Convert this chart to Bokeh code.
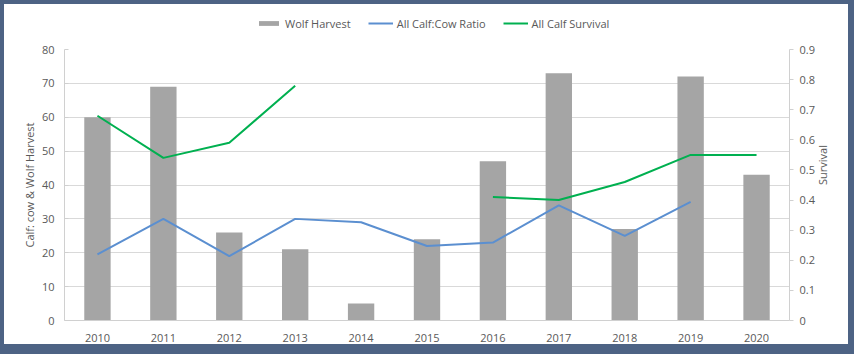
import math

from bokeh.plotting import figure
from bokeh.layouts import column
from bokeh.models import (ColumnDataSource, FactorRange, Range1d, LinearAxis,
                          FixedTicker, Legend, LegendItem, Plot, VBar, Line)
from bokeh.embed import file_html
from bokeh.resources import INLINE

nan = float("nan")

years = ["2010", "2011", "2012", "2013", "2014", "2015",
         "2016", "2017", "2018", "2019", "2020"]
wolf_harvest = [60, 69, 26, 21, 5, 24, 47, 73, 27, 72, 43]
calf_cow_ratio = [19.5, 30, 19, 30, 29, 22, 23, 34, 25, 35, nan]
calf_survival = [0.68, 0.54, 0.59, 0.78, nan, nan, 0.41, 0.40, 0.46, 0.55, 0.55]

left_ticks = [0, 10, 20, 30, 40, 50, 60, 70, 80]
right_ticks = [0, 0.1, 0.2, 0.3, 0.4, 0.5, 0.6, 0.7, 0.8, 0.9]

series_names = ["Wolf Harvest", "All Calf:Cow Ratio", "All Calf Survival"]

FONT = "Open Sans"
TXT = "#595959"
AXIS = "#d0d0d0"
BAR = "#a5a5a5"
BLUE = "#5b8fd0"
GREEN = "#00b050"
FRAME = "#4d6384"

src = ColumnDataSource(dict(year=years, harvest=wolf_harvest,
                            ratio=calf_cow_ratio, surv=calf_survival))

# ---- main chart -----------------------------------------------------------
p = figure(x_range=FactorRange(*years, range_padding=0), y_range=Range1d(0, 80),
           width=844, height=310, output_backend="svg", toolbar_location=None,
           min_border_left=60, min_border_right=59, min_border_top=15,
           min_border_bottom=24, outline_line_color=None,
           background_fill_color="white", border_fill_color="white")
p.margin = (0, 6, 10, 4)

p.extra_y_ranges = {"surv": Range1d(0, 0.9)}

p.vbar(x="year", top="harvest", width=0.4, source=src,
       fill_color=BAR, line_color=None)
p.line(x="year", y="ratio", source=src, line_color=BLUE, line_width=2)
p.line(x="year", y="surv", source=src, line_color=GREEN, line_width=2,
       y_range_name="surv")

p.xgrid.grid_line_color = None
p.ygrid.grid_line_color = "#d9d9d9"
p.ygrid.ticker = FixedTicker(ticks=left_ticks)

ya = p.yaxis[0]
ya.ticker = FixedTicker(ticks=left_ticks)
ya.axis_label = "Calf: cow & Wolf Harvest"
ya.axis_line_color = AXIS
ya.major_tick_line_color = AXIS
ya.major_tick_out = 0
ya.major_tick_in = 4
ya.minor_tick_line_color = None
ya.major_label_standoff = 10

xa = p.xaxis[0]
xa.axis_line_color = AXIS
xa.major_tick_line_color = None
xa.major_label_standoff = 7

ra = LinearAxis(y_range_name="surv", ticker=FixedTicker(ticks=right_ticks),
                axis_label="Survival")
ra.major_label_overrides = {0: "0"}
ra.axis_line_color = AXIS
ra.major_tick_line_color = AXIS
ra.major_tick_out = 4
ra.major_tick_in = 0
ra.minor_tick_line_color = None
ra.major_label_standoff = 6
# title reads bottom-to-top, like the left one
ra.axis_label_orientation = math.pi / 2
p.add_layout(ra, "right")

for ax in (ya, xa, ra):
    ax.major_label_text_font = FONT
    ax.major_label_text_font_size = "11px"
    ax.major_label_text_color = TXT
    ax.axis_label_text_font = FONT
    ax.axis_label_text_font_size = "11px"
    ax.axis_label_text_font_style = "normal"
    ax.axis_label_text_color = TXT
ya.axis_label_standoff = 2
ra.axis_label_standoff = 5

# ---- legend strip above the chart ------------------------------------------
lg = Plot(x_range=Range1d(0, 1), y_range=Range1d(0, 1), width=844, height=30,
          output_backend="svg", toolbar_location=None,
          min_border_left=60, min_border_right=59, min_border_top=0,
          min_border_bottom=0, outline_line_color=None,
          background_fill_color=None, border_fill_color=None)
lg.margin = (4, 6, 0, 4)

# key glyphs hold a single empty point so only their legend swatch shows
key_src = ColumnDataSource(dict(x=[nan], y=[nan]))
key_bar = lg.add_glyph(key_src, VBar(x="x", top="y", width=0.4,
                                     fill_color=BAR, line_color=None))
key_blue = lg.add_glyph(key_src, Line(x="x", y="y", line_color=BLUE, line_width=2))
key_green = lg.add_glyph(key_src, Line(x="x", y="y", line_color=GREEN, line_width=2))

legend = Legend(items=[LegendItem(label=series_names[0], renderers=[key_bar]),
                       LegendItem(label=series_names[1], renderers=[key_blue]),
                       LegendItem(label=series_names[2], renderers=[key_green])],
                orientation="horizontal", location=(192, 3),
                glyph_width=25, glyph_height=6, label_standoff=4, spacing=17,
                padding=0, margin=0, border_line_color=None,
                background_fill_alpha=0, label_text_font=FONT,
                label_text_font_size="11px", label_text_color=TXT,
                label_height=16)
lg.add_layout(legend, "center")

# white card with a dark frame drawn as inset bands round its edge
page = column(lg, p, spacing=0, styles={
    "background-color": "white",
    "box-shadow": f"inset 4px 4px 0 0 {FRAME}, inset -6px -10px 0 0 {FRAME}",
})

open("out.html", "w").write(file_html(page, INLINE))
